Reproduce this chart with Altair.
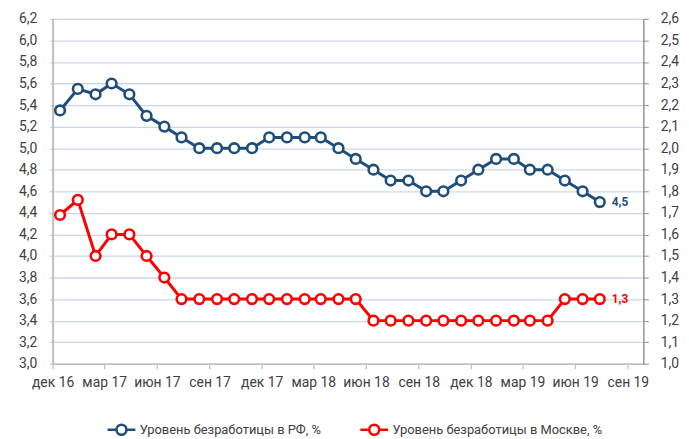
import altair as alt
import pandas as pd

# ---- data ----
dates = [d.strftime("%Y-%m-%d") for d in pd.date_range("2016-12-14", periods=32, freq=pd.DateOffset(months=1))]
rf = [5.35, 5.55, 5.5, 5.6, 5.5, 5.3, 5.2, 5.1, 5.0, 5.0, 5.0, 5.0, 5.1, 5.1, 5.1, 5.1,
      5.0, 4.9, 4.8, 4.7, 4.7, 4.6, 4.6, 4.7, 4.8, 4.9, 4.9, 4.8, 4.8, 4.7, 4.6, 4.5]
msk = [1.69, 1.76, 1.5, 1.6, 1.6, 1.5, 1.4, 1.3, 1.3, 1.3, 1.3, 1.3, 1.3, 1.3, 1.3, 1.3,
       1.3, 1.3, 1.2, 1.2, 1.2, 1.2, 1.2, 1.2, 1.2, 1.2, 1.2, 1.2, 1.2, 1.3, 1.3, 1.3]
series_names = ["Уровень безработицы в РФ, %", "Уровень безработицы в Москве, %"]
series_colors = ["#1F4E79", "#FF0000"]
x_tick_dates = [(2016, 12), (2017, 3), (2017, 6), (2017, 9), (2017, 12), (2018, 3),
                (2018, 6), (2018, 9), (2018, 12), (2019, 3), (2019, 6), (2019, 9)]
month_names = ["янв", "фев", "мар", "апр", "май", "июн", "июл", "авг", "сен", "окт", "ноя", "дек"]
left_ticks = [3.0, 3.2, 3.4, 3.6, 3.8, 4.0, 4.2, 4.4, 4.6, 4.8, 5.0, 5.2, 5.4, 5.6, 5.8, 6.0, 6.2]
right_ticks = [1.0, 1.1, 1.2, 1.3, 1.4, 1.5, 1.6, 1.7, 1.8, 1.9, 2.0, 2.1, 2.2, 2.3, 2.4, 2.5, 2.6]

FONT = "Roboto"
TXT = "#404040"

df_rf = pd.DataFrame({"date": dates, "v": rf, "series": series_names[0]})
df_ms = pd.DataFrame({"date": dates, "v": msk, "series": series_names[1]})
for d in (df_rf, df_ms):
    d["lbl"] = [f"{x:.1f}".replace(".", ",") for x in d["v"]]

color_scale = alt.Scale(domain=series_names, range=series_colors)

months_js = "[" + ",".join(f"'{m}'" for m in month_names) + "]"
x_enc = alt.X(
    "date:T",
    scale=alt.Scale(type="utc",
                    domain=[alt.DateTime(year=2016, month=12, date=1, utc=True),
                            alt.DateTime(year=2019, month=9, date=28, utc=True)]),
    axis=alt.Axis(
        values=[alt.DateTime(year=y, month=m, date=1, utc=True) for y, m in x_tick_dates],
        labelExpr=f"{months_js}[utcmonth(datum.value)] + ' ' + utcFormat(datum.value, '%y')",
        title=None, grid=False, domainColor="#BFBFBF", domainWidth=1.5,
        tickColor="#BFBFBF", tickSize=5, tickWidth=1.2, labelFontSize=14, labelColor=TXT,
        labelPadding=7, labelFont=FONT, labelAngle=0, labelOverlap=False, labelFlush=False,
    ),
)

comma_expr = "replace(format(datum.value, '.1f'), '.', ',')"

legend_path = ("M-1,0L-0.36,0M0.36,0L1,0"
               "M0.36,0A0.36,0.36 0 1 1 -0.36,0A0.36,0.36 0 1 1 0.36,0Z")

y_left = alt.Y("v:Q",
               scale=alt.Scale(domain=[3.0, 6.2], nice=False, zero=False),
               axis=alt.Axis(orient="left", values=left_ticks, labelExpr=comma_expr, title=None,
                             grid=True, gridColor="#C9D7EE", gridWidth=1.3,
                             domainColor="#BFBFBF", domainWidth=2, tickColor="#BFBFBF",
                             tickSize=3, labelFontSize=14, labelColor=TXT, labelPadding=13,
                             labelFont=FONT))
y_right = alt.Y("v:Q",
                scale=alt.Scale(domain=[1.0, 2.6], nice=False, zero=False),
                axis=alt.Axis(orient="right", values=right_ticks, labelExpr=comma_expr, title=None,
                              grid=False, domainColor="#8C8C8C", domainWidth=1.3,
                              tickColor="#8C8C8C", tickSize=5, labelFontSize=14, labelColor=TXT,
                              labelPadding=12, labelFont=FONT))


def group(df, y_enc, legend, label_color):
    base = alt.Chart(df).encode(x=x_enc, y=y_enc)
    line = base.mark_line(strokeWidth=3).encode(
        color=alt.Color("series:N", scale=color_scale, legend=legend))
    pts = base.mark_point(shape="circle", filled=True, fill="white", size=95,
                          strokeWidth=2.6, opacity=1).encode(
        stroke=alt.Stroke("series:N", scale=color_scale, legend=None))
    lab = alt.Chart(df.tail(1)).mark_text(align="left", baseline="middle", dx=12,
                                          fontWeight="bold", fontSize=12, font=FONT,
                                          color=label_color).encode(
        x=x_enc, y=y_enc, text="lbl:N")
    return alt.layer(line, pts, lab)


legend = alt.Legend(title=None, orient="none", direction="horizontal", legendX=54, legendY=399,
                    symbolType=legend_path, symbolSize=784, symbolStrokeWidth=2.6,
                    symbolFillColor="white", labelFontSize=13, labelColor=TXT, labelFont=FONT,
                    columnPadding=34, labelOffset=3, labelLimit=400, symbolOpacity=1)

chart = alt.layer(
    group(df_rf, y_left, legend, series_colors[0]),
    group(df_ms, y_right, None, series_colors[1]),
).resolve_scale(y="independent").properties(
    width=596, height=348,
    autosize=alt.AutoSizeParams(type="none"),
    padding={"left": 45, "top": 9, "right": 38, "bottom": 74},
).configure_view(stroke=None).configure(font=FONT)

chart.save("out.html", embed_options={"renderer": "svg", "actions": False})
